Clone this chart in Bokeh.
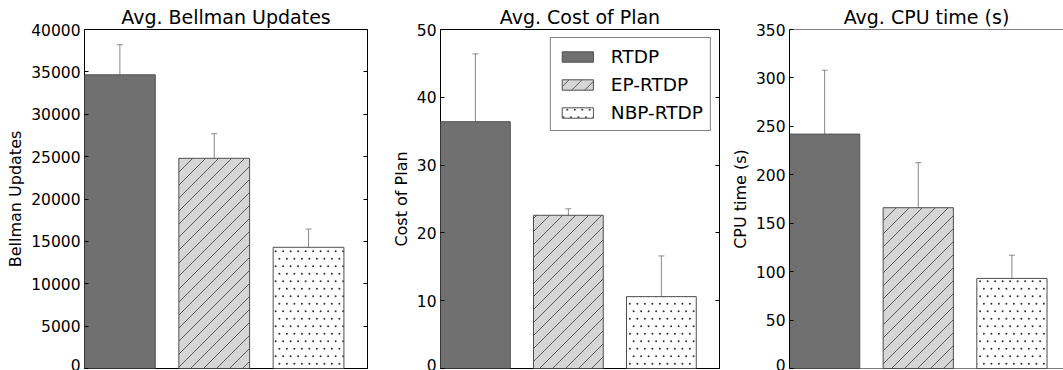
from bokeh.plotting import figure
from bokeh.models import (Range1d, FixedTicker, LinearAxis, Whisker, TeeHead, Span,
                          ColumnDataSource, Legend, LegendItem, CanvasTexture)
from bokeh.core.properties import value
from bokeh.layouts import row
from bokeh.embed import file_html
from bokeh.resources import INLINE

# ---- data ----
methods = ["RTDP", "EP-RTDP", "NBP-RTDP"]
positions = [0, 1, 2]

bellman_mean = [34650, 24800, 14300]
bellman_err = [3550, 2900, 2150]

cost_mean = [36.4, 22.6, 10.6]
cost_err = [10.0, 0.95, 6.0]

cpu_mean = [242, 166, 93]
cpu_err = [66, 46.5, 24]

titles = ["Avg. Bellman Updates", "Avg. Cost of Plan", "Avg. CPU time (s)"]
ylabels = ["Bellman Updates", "Cost of Plan", "CPU time (s)"]
yticks = [
    [0, 5000, 10000, 15000, 20000, 25000, 30000, 35000, 40000],
    [0, 10, 20, 30, 40, 50],
    [0, 50, 100, 150, 200, 250, 300, 350],
]
means = [bellman_mean, cost_mean, cpu_mean]
errs = [bellman_err, cost_err, cpu_err]

# ---- styles ----
FONT = "DejaVu Sans"
fills = ["#707070", "#d6d6d6", "#ffffff"]
hatches = [None, "diag45", "stagdots"]
edge = "#4f4f4f"
err_color = "#8a8a8a"
bar_w = 0.75

DIAG_JS = """
var T = 13;
var c = ctx.canvas;
if (c && (c.width !== T || c.height !== T)) { c.width = T; c.height = T; }
if (ctx.setTransform) { ctx.setTransform(1, 0, 0, 1, 0, 0); }
ctx.clearRect(0, 0, T, T);
ctx.strokeStyle = '#5a5a5a';
ctx.lineWidth = 1;
ctx.beginPath();
ctx.moveTo(-1, T + 1); ctx.lineTo(T + 1, -1);
ctx.moveTo(-2, 2); ctx.lineTo(2, -2);
ctx.moveTo(T - 2, T + 2); ctx.lineTo(T + 2, T - 2);
ctx.stroke();
"""

DOTS_JS = """
var T = 15;
var c = ctx.canvas;
if (c && (c.width !== T || c.height !== T)) { c.width = T; c.height = T; }
if (ctx.setTransform) { ctx.setTransform(1, 0, 0, 1, 0, 0); }
ctx.clearRect(0, 0, T, T);
ctx.fillStyle = '#333333';
var pts = [[T*0.125, T*0.25], [T*0.625, T*0.25], [T*0.375, T*0.75], [T*0.875, T*0.75]];
for (var k = 0; k < pts.length; k++) {
  ctx.beginPath();
  ctx.arc(pts[k][0], pts[k][1], 1.0, 0, 2*Math.PI);
  ctx.fill();
}
"""

textures = {
    "diag45": CanvasTexture(code=DIAG_JS, repetition="repeat"),
    "stagdots": CanvasTexture(code=DOTS_JS, repetition="repeat"),
}
tile_sizes = {"diag45": 13, "stagdots": 15}

# per panel: width, min_border_left, min_border_right, x_end, closed frame
PX_PER_UNIT = 283 / 3.0
layout_spec = [
    (388, 84, 21, 2.625, True),
    (339, 48, 8, 2.625, True),
    (336, 60, 0, -0.375 + 276 / PX_PER_UNIT, False),
]


def make_panel(i):
    width, mbl, mbr, x_end, closed = layout_spec[i]
    top = yticks[i][-1]
    p = figure(width=width, height=370, output_backend="svg", toolbar_location=None,
               x_range=Range1d(-0.375, x_end), y_range=Range1d(0, top),
               min_border_left=mbl, min_border_right=mbr,
               min_border_top=29, min_border_bottom=2,
               title=titles[i])
    p.title.text_font = FONT
    p.title.text_font_size = "19px"
    p.title.text_font_style = "normal"
    p.title.align = "center"
    p.title.standoff = 4
    p.title.text_color = "black"

    p.xaxis.visible = False
    p.grid.visible = False
    p.background_fill_color = "white"
    p.border_fill_color = "white"

    ya = p.yaxis[0]
    ya.ticker = FixedTicker(ticks=yticks[i])
    ya.axis_label = ylabels[i]
    ya.axis_label_text_font = FONT
    ya.axis_label_text_font_size = "16px"
    ya.axis_label_text_font_style = "normal"
    ya.axis_label_text_color = "black"
    ya.axis_label_standoff = 3
    ya.major_label_text_font = FONT
    ya.major_label_text_font_size = "15.5px"
    ya.major_label_text_color = "black"
    ya.major_label_standoff = 4
    ya.major_tick_in = 4
    ya.major_tick_out = 0
    ya.minor_tick_in = 0
    ya.minor_tick_out = 0
    ya.major_tick_line_color = "black"

    if closed:
        p.outline_line_color = "black"
        p.outline_line_width = 1
        ya.axis_line_color = None
        ra = LinearAxis(ticker=FixedTicker(ticks=yticks[i]))
        ra.major_label_text_font_size = "0px"
        ra.major_label_standoff = 0
        ra.major_tick_in = 4
        ra.major_tick_out = 0
        ra.minor_tick_in = 0
        ra.minor_tick_out = 0
        ra.axis_line_color = None
        ra.major_tick_line_color = "black"
        p.add_layout(ra, "right")
    else:
        # the reference crops this panel at its right side: no right border
        p.outline_line_color = None
        ya.axis_line_color = "black"
        ya.axis_line_width = 1
        p.add_layout(Span(location=top, dimension="width", line_color="black", line_width=1))
        p.add_layout(Span(location=0, dimension="width", line_color="black", line_width=1))

    renderers = []
    for j in range(3):
        kw = dict(x=[positions[j]], top=[means[i][j]], bottom=[0], width=bar_w,
                  fill_color=fills[j], line_color=edge, line_width=1)
        if hatches[j] is not None:
            t = tile_sizes[hatches[j]]
            kw.update(hatch_pattern=value(hatches[j]), hatch_extra=textures,
                      hatch_color="#555555", hatch_weight=t, hatch_scale=t)
        r = p.vbar(**kw)
        renderers.append(r)

    lower = [m - e for m, e in zip(means[i], errs[i])]
    upper = [m + e for m, e in zip(means[i], errs[i])]
    src = ColumnDataSource(dict(x=positions, lower=lower, upper=upper))
    w = Whisker(source=src, base="x", lower="lower", upper="upper", dimension="height",
                line_color=err_color, line_width=1,
                upper_head=TeeHead(size=6, line_color=err_color, line_width=1),
                lower_head=TeeHead(size=6, line_color=err_color, line_width=1))
    p.add_layout(w)

    if i == 1:
        items = [LegendItem(label=methods[j], renderers=[renderers[j]]) for j in range(3)]
        lg = Legend(items=items, location="top_right", margin=8, padding=7,
                    glyph_width=39, glyph_height=13, label_standoff=14,
                    label_height=22, spacing=6,
                    label_text_font=FONT, label_text_font_size="18.5px",
                    label_text_color="black",
                    border_line_color="black", border_line_width=1,
                    background_fill_color="white", background_fill_alpha=1.0)
        p.add_layout(lg, "center")
    return p


panels = [make_panel(i) for i in range(3)]
layout = row(*panels, spacing=0)

open("out.html", "w").write(file_html(layout, INLINE))
